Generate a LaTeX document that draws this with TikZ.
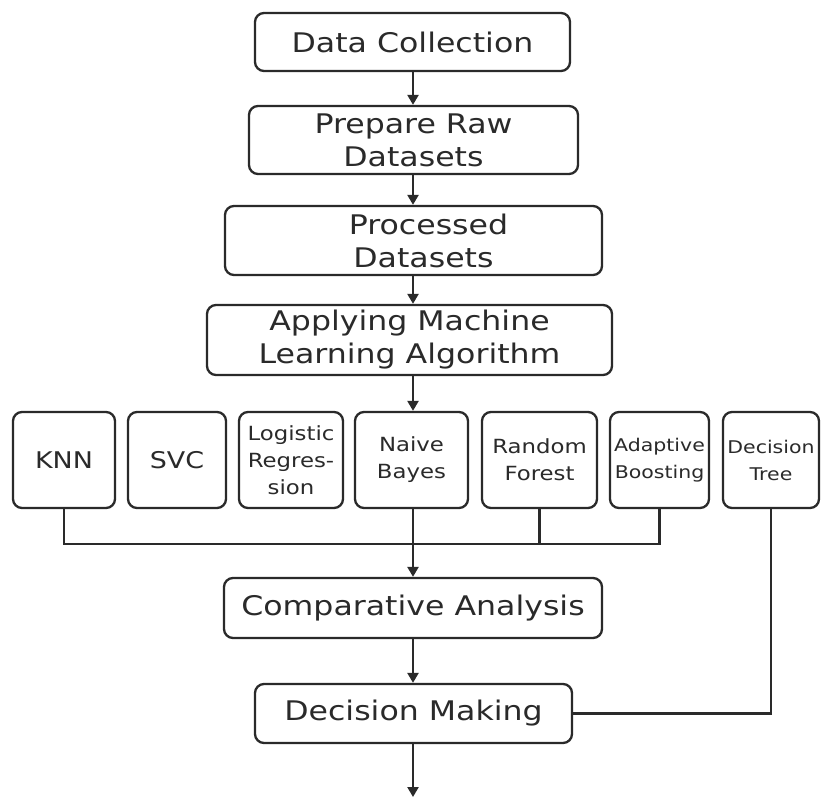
\documentclass[tikz,border=0pt]{standalone}
\usepackage{fontspec}
\setmainfont{DejaVu Sans}[FakeStretch=1.17]
\usetikzlibrary{arrows.meta}
\definecolor{ink}{HTML}{2A2A2A}
\begin{document}
\begin{tikzpicture}[x=1pt,y=-1pt,
  box/.style={draw=ink, line width=2.3pt, rounded corners=9pt, fill=white, align=center, inner sep=0pt, text=ink},
  big/.style={font=\fontsize{27}{33}\selectfont},
  mid/.style={font=\fontsize{23}{28}\selectfont},
  sml/.style={font=\fontsize{19.5}{27}\selectfont},
  tiny/.style={font=\fontsize{17.5}{27}\selectfont},
  alg/.style={box, minimum height=96pt},
  ln/.style={draw=ink, line width=2.3pt},
  arr/.style={ln, -{Triangle[length=10pt,width=11pt]}}]
\useasboundingbox (0,0) rectangle (821,799);
\fill[white] (0,0) rectangle (821,799);
\coordinate (cx) at (413,0);
\node[box,big,minimum width=315pt,minimum height=58pt] (dc) at (412.5,42) {Data Collection};
\node[box,big,minimum width=329pt,minimum height=68pt] (prep) at (413.5,140) {Prepare Raw\\Datasets};
\node[box,big,minimum width=377pt,minimum height=69pt] (proc) at (413.5,240.5) {\hspace*{30pt}Processed\\\hspace*{20pt}Datasets};
\node[box,big,minimum width=405pt,minimum height=70pt] (apply) at (409.5,340) {Applying Machine\\Learning Algorithm};
\node[alg,mid,minimum width=102pt] (knn) at (64,460) {KNN};
\node[alg,mid,minimum width=98pt] (svc) at (177,460) {SVC};
\node[alg,sml,minimum width=104pt] (log) at (291,460) {Logistic\\Regres-\\sion};
\node[alg,sml,minimum width=113pt] (nb) at (411.5,460) {Naive\\Bayes};
\node[alg,sml,minimum width=115pt] (rf) at (539.5,460) {Random\\Forest};
\node[alg,tiny,minimum width=99pt] (ada) at (659.5,460) {Adaptive\\Boosting};
\node[alg,tiny,minimum width=96pt] (dt) at (771,460) {Decision\\Tree};
\node[box,big,minimum width=378pt,minimum height=60pt] (comp) at (413,608) {Comparative Analysis};
\node[box,big,minimum width=317pt,minimum height=59pt] (dm) at (413.5,713.5) {Decision Making};
\coordinate (j) at (413,544);
\coordinate (end) at (413,797);
\draw[arr] (dc.south -| cx) -- (prep.north -| cx);
\draw[arr] (prep.south -| cx) -- (proc.north -| cx);
\draw[arr] (proc.south -| cx) -- (apply.north -| cx);
\draw[arr] (apply.south -| cx) -- (nb.north -| cx);
\draw[ln] (knn.south) |- (ada.south |- j) -- (ada.south);
\draw[ln] (rf.south) -- (rf.south |- j);
\draw[arr] (nb.south -| cx) -- (comp.north -| cx);
\draw[arr] (comp.south -| cx) -- (dm.north -| cx);
\draw[ln] (dt.south) |- (dm.east);
\draw[arr] (dm.south -| cx) -- (end);
\end{tikzpicture}
\end{document}
